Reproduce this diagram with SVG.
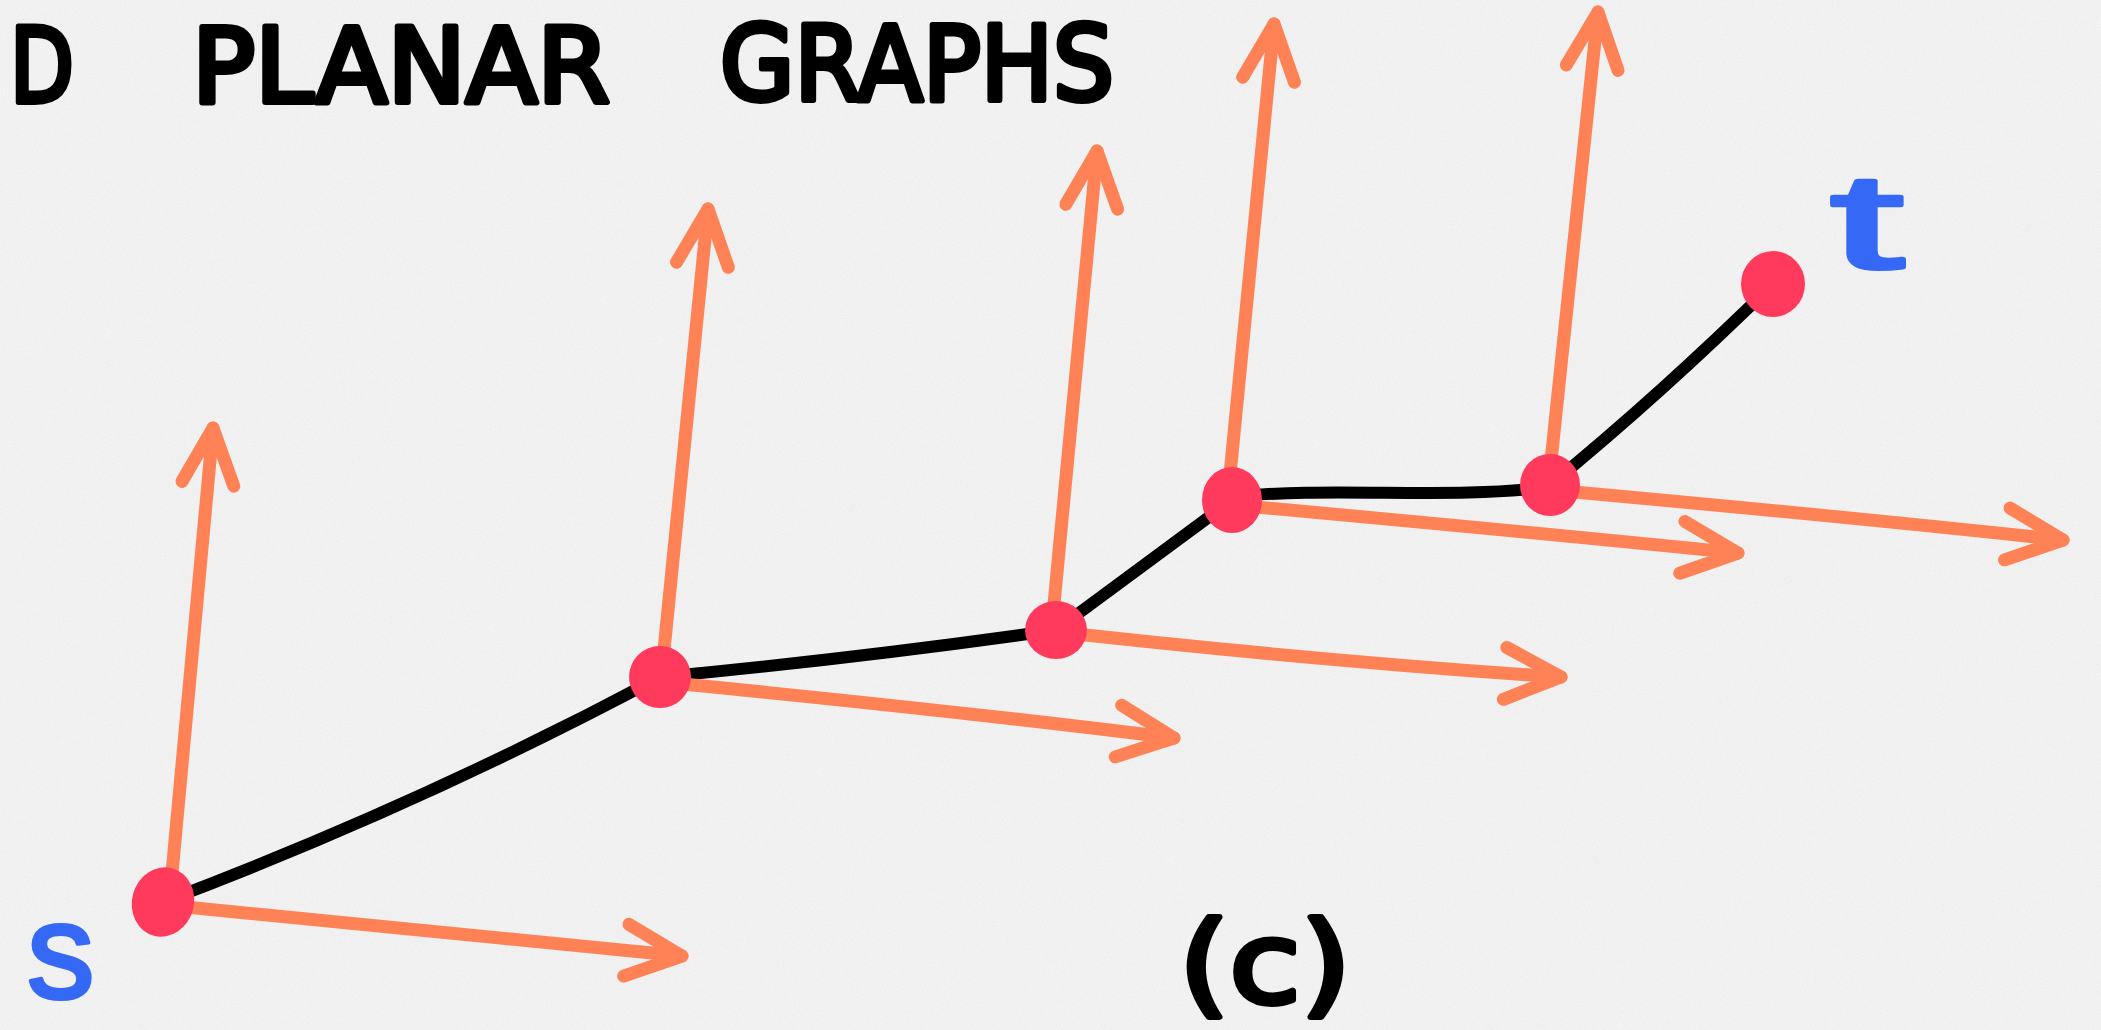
<svg xmlns="http://www.w3.org/2000/svg" width="2101" height="1030" viewBox="0 0 2101 1030">
  <defs>
    <filter id="paper" x="0" y="0" width="100%" height="100%">
      <feTurbulence type="fractalNoise" baseFrequency="0.9" numOctaves="2" seed="4" result="n"/>
      <feColorMatrix in="n" type="matrix" values="0 0 0 0 0.55  0 0 0 0 0.55  0 0 0 0 0.55  0.3 0 0 0 -0.1"/>
    </filter>
    <marker id="ah" markerUnits="userSpaceOnUse" viewBox="-80 -50 100 100" markerWidth="100" markerHeight="100" refX="0" refY="0" orient="auto" overflow="visible">
      <path d="M-56 -26 L0 0 L-56 26" fill="none" stroke="#ff8256" stroke-width="13" stroke-linecap="round" stroke-linejoin="round"/>
    </marker>
  </defs>
  <style>
    .edge { fill: none; stroke: #000; stroke-width: 12; stroke-linecap: round; stroke-linejoin: round; }
    .arrow { fill: none; stroke: #ff8256; stroke-width: 13; stroke-linecap: round; stroke-linejoin: round; marker-end: url(#ah); }
    .node { fill: #ff3a5c; }
    .title { font-family: "DejaVu Sans", "Liberation Sans", sans-serif; font-weight: normal; font-size: 104px; fill: #000; stroke: #000; stroke-width: 6; stroke-linejoin: round; stroke-linecap: round; }
    .lbl { font-family: "Liberation Sans", "DejaVu Sans", sans-serif; fill: #3468f5; stroke: #3468f5; stroke-width: 4; stroke-linejoin: round; }
    .cap { font-family: "DejaVu Sans", "Liberation Sans", sans-serif; font-size: 112px; fill: #000; stroke: #000; stroke-width: 6; stroke-linejoin: round; stroke-linecap: round; }
  </style>

  <rect x="0" y="0" width="2101" height="1030" fill="#f3f3f3"/>
  <rect x="0" y="0" width="2101" height="1030" filter="url(#paper)"/>

  <g id="title">
    <text class="title" x="10" y="102" textLength="64" lengthAdjust="spacingAndGlyphs">D</text>
    <text class="title" x="192" y="102" textLength="418" lengthAdjust="spacingAndGlyphs">PLANAR</text>
    <text class="title" x="720" y="100" textLength="394" lengthAdjust="spacingAndGlyphs">GRAPHS</text>
  </g>

  <g id="connectors">
    <path class="edge" d="M163 902 Q 420 805 660 677"/>
    <path class="edge" d="M660 677 Q 860 658 1056 630"/>
    <path class="edge" d="M1056 630 L 1232 500"/>
    <path class="edge" d="M1232 497 C 1330 486 1450 500 1550 487"/>
    <path class="edge" d="M1550 485 Q 1660 395 1773 284"/>

    <path class="arrow" d="M170 895 L 213 428"/>
    <path class="arrow" d="M662 670 L 708 209"/>
    <path class="arrow" d="M1052 625 L 1097 151"/>
    <path class="arrow" d="M1228 495 L 1274 24"/>
    <path class="arrow" d="M1549 480 L 1598 12"/>

    <path class="arrow" d="M165 905 Q 450 932 682 956"/>
    <path class="arrow" d="M662 682 Q 950 710 1174 738"/>
    <path class="arrow" d="M1058 632 Q 1330 662 1561 677"/>
    <path class="arrow" d="M1234 505 Q 1530 532 1738 553"/>
    <path class="arrow" d="M1552 490 Q 1850 517 2063 540"/>
  </g>

  <g id="node-s">
    <ellipse class="node" cx="163" cy="902" rx="31" ry="35" transform="rotate(15 163 902)"/>
    <text class="lbl" x="27" y="998" font-size="135">s</text>
  </g>
  <g id="node-2"><ellipse class="node" cx="660" cy="677" rx="31" ry="31"/></g>
  <g id="node-3"><ellipse class="node" cx="1056" cy="630" rx="31" ry="29"/></g>
  <g id="node-4"><ellipse class="node" cx="1232" cy="500" rx="30" ry="33"/></g>
  <g id="node-5"><ellipse class="node" cx="1550" cy="485" rx="30" ry="31"/></g>
  <g id="node-t">
    <ellipse class="node" cx="1773" cy="284" rx="32" ry="33"/>
    <text class="lbl" x="1830" y="268" font-size="135" textLength="74" lengthAdjust="spacingAndGlyphs">t</text>
  </g>

  <g id="caption">
    <text class="cap" x="1179" y="1002" textLength="172" lengthAdjust="spacingAndGlyphs">(c)</text>
  </g>
</svg>
